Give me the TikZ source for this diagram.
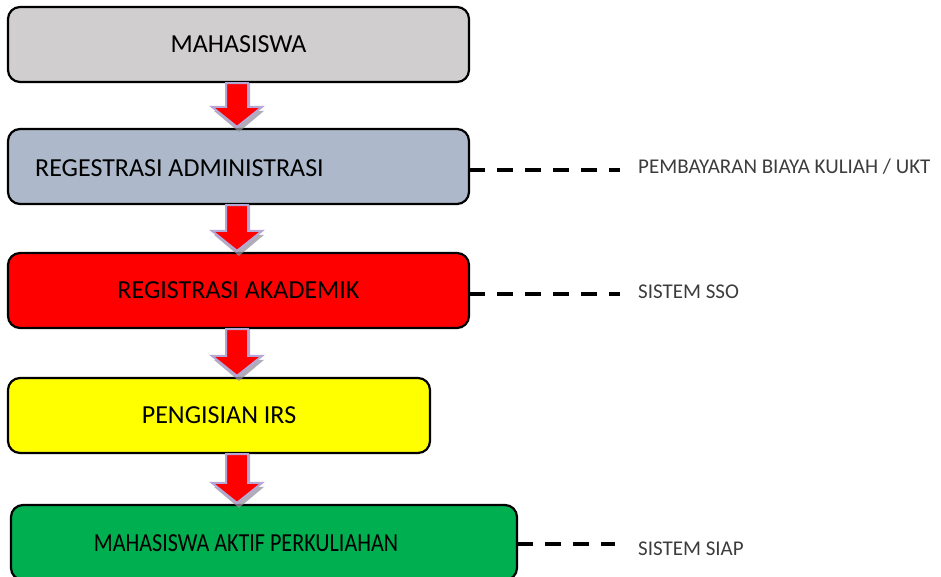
\documentclass[tikz,border=0pt]{standalone}
\usepackage{fontspec}
\setmainfont{Carlito}
\usetikzlibrary{calc}

\definecolor{boxgray}{RGB}{208,206,206}
\definecolor{boxblue}{RGB}{173,185,202}
\definecolor{boxred}{RGB}{255,0,0}
\definecolor{boxyellow}{RGB}{255,255,0}
\definecolor{boxgreen}{RGB}{0,176,80}
\definecolor{arrowrim}{RGB}{180,167,214}
\definecolor{arrowshade}{RGB}{150,146,160}
\definecolor{notegray}{RGB}{60,60,60}

\tikzset{
  stagebox/.style={draw=black, line width=2.2pt, rounded corners=12pt,
    minimum height=75pt, inner sep=0pt, font=\fontsize{26}{30}\selectfont},
  stagetext/.style={inner sep=0pt, font=\fontsize{26}{30}\selectfont},
  linkline/.style={draw=black, line width=4pt, dash pattern=on 16pt off 12pt},
  notetext/.style={anchor=west, inner sep=0pt, text=notegray,
    font=\fontsize{21}{25}\selectfont},
  arrowbody/.style={fill=boxred, draw=arrowrim, line width=2pt, line join=miter},
  arrowshadow/.style={fill=arrowshade, fill opacity=0.75, draw=none},
}

% Block arrow from the bottom of one stage to the top of the next
\newcommand\stagearrow[2]{%
  \path let \p1=(#1.south), \p2=(#2.north) in
    [arrowshadow] (228pt,\y1) -- (250pt,\y1) -- (250pt,\y2+17pt) -- (264pt,\y2+17pt)
      -- (239pt,\y2-4pt) -- (214pt,\y2+17pt) -- (228pt,\y2+17pt) -- cycle;
  \path let \p1=(#1.south), \p2=(#2.north) in
    [arrowbody] (226pt,\y1) -- (248pt,\y1) -- (248pt,\y2+21pt) -- (262pt,\y2+21pt)
      -- (237pt,\y2+1pt) -- (212pt,\y2+21pt) -- (226pt,\y2+21pt) -- cycle;
}

\begin{document}
\begin{tikzpicture}[x=1pt, y=-1pt]
  \useasboundingbox (0,0) rectangle (941,577);
  \clip (0,0) rectangle (941,577);

  % dashed links to the side notes (drawn first so the boxes cover their ends)
  \coordinate (e1) at (620,170);
  \coordinate (e2) at (620,294);
  \coordinate (e3) at (615,544);
  \coordinate (s1) at (469,170);
  \coordinate (s2) at (469,294);
  \coordinate (s3) at (517,544);
  \draw[linkline] (s1) -- (e1);
  \draw[linkline] (s2) -- (e2);
  \draw[linkline] (s3) -- (e3);

  % stages
  \node[stagebox, fill=boxgray,   minimum width=461pt] (mhs)  at (238.5,44.5)  {MAHASISWA};
  \node[stagebox, fill=boxblue,   minimum width=461pt] (adm)  at (238.5,166.5) {};
  \node[stagetext, anchor=west] (admtext) at (35,168) {REGESTRASI ADMINISTRASI};
  \node[stagebox, fill=boxred,    minimum width=461pt] (akd)  at (238.5,290.5) {REGISTRASI AKADEMIK};
  \node[stagebox, fill=boxyellow, minimum width=422pt] (irs)  at (219,415.5)   {PENGISIAN IRS};
  \node[stagebox, fill=boxgreen,  minimum width=506pt] (aktif) at (264,542.5)  {};
  \node[stagetext] (aktiftext) at (246,543) {\scalebox{0.85}[1]{MAHASISWA AKTIF PERKULIAHAN}};

  % flow arrows
  \stagearrow{mhs}{adm}
  \stagearrow{adm}{akd}
  \stagearrow{akd}{irs}
  \stagearrow{irs}{aktif}

  % side notes
  \node[notetext] (n1) at (638,167) {PEMBAYARAN BIAYA KULIAH / UKT};
  \node[notetext] (n2) at (638,292) {SISTEM SSO};
  \node[notetext] (n3) at (638,549) {SISTEM SIAP};
\end{tikzpicture}
\end{document}
